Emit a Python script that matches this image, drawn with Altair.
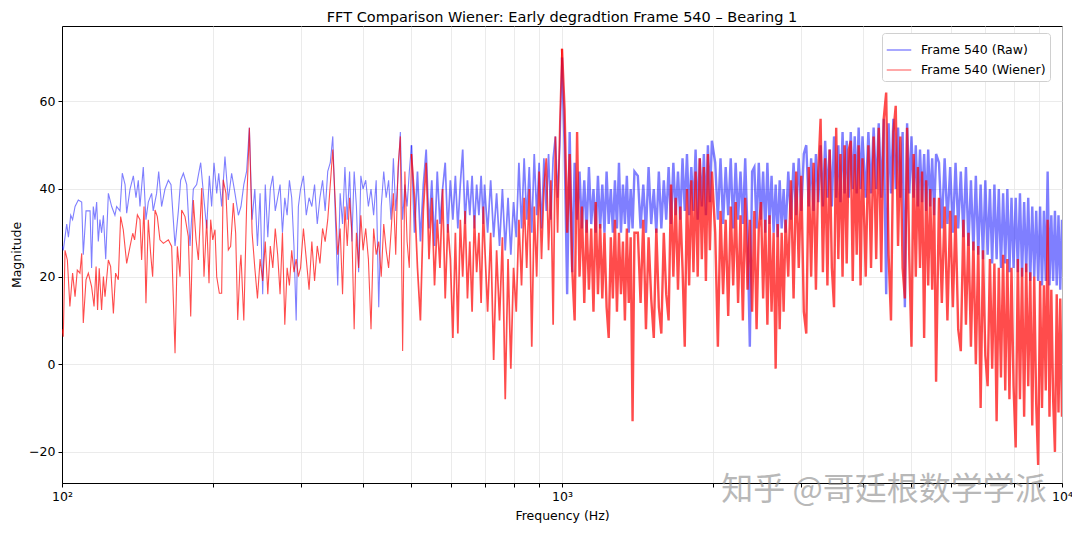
import altair as alt
import pandas as pd

TITLE = "FFT Comparison Wiener: Early degradtion Frame 540 – Bearing 1"
SERIES = ["Frame 540 (Raw)", "Frame 540 (Wiener)"]
WATERMARK = "知乎 @哥廷根数学学派"

# ---- low-frequency region (read separately for each trace) ----
raw_freq_lo = [100, 100.6, 102.2, 103.0, 104.1, 105.0, 106.2, 107.8, 109.5, 110.3, 111.7, 113.8, 114.6,
               115.5, 116.4, 117.3, 118.2, 119.1, 120.0, 121.0, 122.3, 123.8, 125.7, 127.6, 128.6, 130.6,
               132.0, 133.7, 134.7, 136.8, 138.9, 140.6, 142.1, 143.2, 145.4, 147.2, 148.8, 151.1, 152.2,
               154.6, 156.1, 158.2, 160.7, 163.2, 165.2, 168.3, 170.9, 172.7, 174.9, 177.6, 180.3, 183.1,
               185.9, 189.4, 192.3, 194.7, 197.1, 199.2, 201.4, 203.9, 205.8, 208.6, 211.8, 215.1, 218.4,
               221.8, 225.3]
raw_mag_lo = [27, 26, 32, 29, 34, 33, 36, 37.5, 37, 25, 35, 35, 22, 36, 33, 37, 28, 33, 30, 34, 24, 39, 36,
              34, 36, 35, 43.6, 41, 34.5, 40, 43, 38, 42, 36, 45, 33, 37, 39, 35, 39, 44, 36, 40, 42, 41,
              27, 35, 42, 43.6, 41, 27, 40, 41, 46, 37.5, 31, 43, 36, 46, 39, 43.6, 36, 47.4, 37.5, 43.6,
              39, 34]
wiener_freq_lo = [100, 100.6, 101.4, 102.5, 103.7, 105.0, 106.2, 107.3, 108.6, 109.5, 110.3, 111.7, 112.9,
                  114.6, 115.9, 117.0, 117.8, 118.7, 120.0, 121.0, 121.9, 123.8, 125.1, 126.7, 128.0, 129.6,
                  131.0, 132.6, 134.7, 136.8, 138.5, 139.7, 141.5, 143.2, 144.3, 145.9, 147.2, 148.8, 150.4,
                  151.8, 153.5, 155.1, 157.0, 159.5, 163.2, 165.7, 168.3, 170.1, 172.2, 173.5, 176.2, 178.9,
                  180.9, 183.1, 185.4, 187.4, 190.3, 192.3, 194.7, 196.8, 198.3, 200.2, 202.3, 203.9, 206.4,
                  208.6, 210.1, 212.8, 215.1, 217.4, 220.1, 222.5, 224.6, 227.0]
wiener_mag_lo = [8, 6.3, 26, 23.8, 13.2, 20.8, 15.4, 21.5, 20.8, 25.3, 9.4, 19.3, 20.8, 17.7, 13.2, 22.3,
                 12.4, 21.9, 12.4, 20, 15.4, 23.8, 22.3, 11.6, 20.8, 19.3, 33.7, 30.7, 23, 26.9, 29.9, 28.4,
                 34.1, 33, 23.8, 36, 13.9, 33, 25.3, 20, 35.2, 33.7, 28.4, 27.6, 28.4, 26.9, 2.5, 26.9, 20,
                 35.2, 33.7, 29.1, 10.9, 37.5, 28.4, 23.8, 40.2, 20, 33, 18.5, 33, 28.4, 30.7, 20, 16.2, 16.2,
                 42.1, 39, 26.1, 26.9, 36.8, 29.9, 10.1, 22.3]

# ---- shared frequency bins, 228 Hz .. 10 kHz ----
freq_b1 = [228, 231, 234, 237, 240, 243, 246, 249, 252, 255, 258, 261, 264, 267, 270, 273, 276, 279, 282,
           285, 288, 291, 294, 297, 300]
raw_b1 = [36, 41, 44, 54, 33, 40, 27, 39, 16, 41, 29, 40, 43, 35, 38, 41, 30, 38, 34, 42, 38, 27, 10, 36, 40]
wiener_b1 = [25, 10, 36, 54, 30, 22, 15, 24, 19, 28, 16, 27, 22, 31, 25, 16, 30, 9, 22, 18, 26, 21, 24, 20, 22]

freq_b2 = [304, 308, 312, 316, 320, 324, 328, 332, 336, 340, 344, 348, 352, 356, 360, 364, 368, 372, 376,
           380, 384, 388, 392, 396, 400]
raw_b2 = [43, 34, 38, 36, 41, 32, 38, 42, 35, 44, 46, 52, 34, 18, 39, 32, 45, 33, 44, 28, 44, 36, 21, 43, 40]
wiener_b2 = [31, 24, 17, 28, 19, 27, 23, 31, 28, 33, 41, 49, 37, 25, 31, 16, 36, 27, 38, 30, 8, 30, 22, 34, 26]

freq_b3 = [405, 410, 415, 420, 425, 430, 435, 440, 445, 450, 455, 460, 465, 470, 475, 480, 485, 490, 495, 500]
raw_b3 = [42, 36, 40, 34, 42, 13, 36, 44, 38, 42, 33, 47, 35, 43, 53, 33, 41, 36, 44, 50]
wiener_b3 = [31, 24, 8, 31, 25, 28, 20, 32, 26, 22, 30, 39, 25, 45, 52, 3, 44, 28, 22, 48]

freq_c = [507, 514, 521, 528, 535, 542, 549, 556, 563, 570, 577, 584, 591, 598, 605, 612, 619, 626, 633,
          640, 647, 654, 661, 668, 675, 682, 689, 696]
raw_c = [30, 44, 28, 41, 49, 31, 42, 27, 44, 32, 40, 46, 30, 42, 33, 43, 31, 41, 49, 32, 42, 34, 43, 31, 41,
         34, 43, 32]
wiener_c = [38, 22, 10, 35, 46, 24, 38, 18, 33, 22, 40, 15, 32, 24, 6, 30, 7, 33, 20, 35, 15, 28, 12, 34, 21,
            30, 14, 36]

freq_d = [700, 710, 720, 730, 740, 750, 760, 770, 780, 790, 800, 810, 820, 830, 840, 850, 860, 870, 880, 890,
          900, 910, 920, 930, 940, 950, 960, 970, 980, 990, 1000]
raw_d = [41, 30, 42, 29, 39, 27, 40, 26, 38, 25, 37, 29, 46, 31, 47, 33, 45, 30, 48, 34, 46, 31, 47, 35, 48,
         33, 47, 52, 38, 50, 70]
wiener_d = [28, 12, 30, 1, 26, 10, 29, -8, 24, -1, 22, 12, 33, 18, 38, 22, 40, 4, 36, 20, 44, 24, 40, 47, 26,
            42, 9, 52, 30, 55, 72]

freq_e = [1012, 1024, 1036, 1048, 1060, 1072, 1084, 1096, 1108, 1120, 1132, 1144, 1156, 1168, 1180, 1192,
          1204, 1216, 1228, 1240, 1252, 1264, 1276, 1288, 1300, 1312, 1324, 1336, 1348, 1360, 1372, 1384, 1396]
raw_e = [50, 16, 53, 21, 46, 33, 44, 31, 42, 30, 45, 32, 40, 30, 43, 31, 41, 30, 44, 32, 40, 30, 42, 31, 46,
         30, 41, 32, 43, 30, 40, 31, 44]
wiener_e = [58, 30, 48, 22, 10, 53, 20, 36, 14, 33, 17, 31, 12, 37, 16, 32, 15, 30, 13, 6, 29, 15, 33, 12,
            30, 16, 28, 10, 31, 14, 29, -13, 30]

freq_f = [1418, 1436, 1454, 1472, 1490, 1508, 1526, 1544, 1562, 1580, 1598, 1616, 1634, 1652, 1670, 1688,
          1706, 1724, 1742, 1760, 1778, 1796, 1814, 1832, 1850, 1868, 1886, 1904, 1922, 1940, 1958, 1976, 1994]
raw_f = [43, 31, 41, 30, 45, 32, 40, 30, 44, 31, 42, 33, 45, 32, 46, 34, 44, 33, 47, 35, 48, 34, 45, 35, 49,
         33, 47, 36, 48, 34, 50, 37, 51]
wiener_f = [30, 14, 33, 8, 29, 15, 6, 31, 13, 7, 30, 16, 10, 41, 20, 38, 17, 36, 22, 4, 40, 18, 42, 21, 44,
            20, 47, 24, 45, 19, 48, 26, 44]

freq_g = [2025, 2050, 2075, 2100, 2125, 2150, 2175, 2200, 2225, 2250, 2275, 2300, 2325, 2350, 2375, 2400,
          2425, 2450, 2475, 2500, 2525, 2550, 2575, 2600, 2625, 2650, 2675, 2700, 2725, 2750, 2775, 2800]
raw_g = [46, 33, 47, 32, 45, 34, 47, 31, 46, 33, 44, 32, 47, 30, 4, 44, 45, 31, 46, 33, 44, 30, 46, 32, 43,
         30, 41, 29, 42, 31, 40, 30]
wiener_g = [30, 4, 35, 16, 33, 11, 36, 18, 37, 14, 34, 10, 38, 17, 33, 12, 35, 8, 31, 37, 15, 33, 9, 34, 12,
            30, -1, 32, 8, 30, 12, 33]

freq_h = [2835, 2870, 2905, 2940, 2975, 3010, 3045, 3080, 3115, 3150, 3185, 3220, 3255, 3290, 3325, 3360,
          3395, 3430, 3465, 3500, 3535, 3570, 3605, 3640, 3675, 3710, 3745, 3780, 3815, 3850, 3885, 3920,
          3955, 3990]
raw_h = [44, 33, 46, 34, 47, 35, 48, 50, 36, 47, 35, 48, 37, 50, 36, 51, 38, 49, 36, 52, 38, 50, 37, 53, 39,
         51, 38, 53, 40, 52, 39, 54, 40, 52]
wiener_h = [20, 42, 15, 44, 22, 43, 12, 7, 45, 20, 46, 17, 44, 56, 21, 47, 18, 49, 22, 13, 54, 24, 48, 20,
            50, 23, 49, 51, 19, 48, 25, 50, 18, 47]

freq_i = [4050, 4100, 4150, 4200, 4250, 4300, 4350, 4400, 4450, 4500, 4550, 4600, 4650, 4700, 4750, 4800,
          4850, 4900, 4950, 5000, 5050, 5100, 5150, 5200, 5250, 5300, 5350, 5400, 5450, 5500, 5550, 5600]
raw_i = [38, 53, 39, 54, 40, 55, 38, 56, 16, 55, 39, 56, 40, 54, 38, 53, 13, 55, 39, 52, 38, 50, 36, 49, 37,
         48, 35, 49, 36, 47, 34, 48]
wiener_i = [20, 50, 22, 52, 24, 54, 21, 56, 62, 25, 10, 53, 59, 27, 52, 22, 15, 54, 24, 4, 48, 20, 45, 22,
            44, 6, 42, 18, 40, 17, 38, -4]

freq_j = [5675, 5750, 5825, 5900, 5975, 6050, 6125, 6200, 6275, 6350, 6425, 6500, 6575, 6650, 6725, 6800,
          6875, 6950, 7025, 7100, 7175, 7250, 7325, 7400, 7475, 7550, 7625, 7700, 7775, 7850, 7925, 8000]
raw_j = [46, 31, 47, 32, 45, 30, 46, 31, 44, 29, 45, 27, 42, 26, 43, 25, 41, 24, 42, 25, 40, 23, 41, 24, 40,
         22, 39, 23, 40, 21, 38, 22]
wiener_j = [38, 14, 36, 10, 35, 13, 34, 8, 3, 33, 9, 30, 4, 28, 0, 27, -10, 26, 2, -5, 24, -1, 23, -13, 22,
            -3, 25, -6, 24, -8, 22, -5]

freq_k = [8080, 8160, 8240, 8320, 8400, 8480, 8560, 8640, 8720, 8800, 8880, 8960, 9040, 9120, 9200, 9280,
          9360, 9440, 9520, 9600, 9680, 9760, 9840, 9920, 10000]
raw_k = [38, 21, 39, 20, 37, 21, 38, 19, 36, 20, 35, 19, 36, 18, 35, 19, 44, 18, 34, 19, 35, 18, 34, 17, 33]
wiener_k = [-19, 24, -8, 22, -12, 23, -5, 21, -14, 20, -9, -23, 19, -10, 18, -6, 33, -12, 17, -8, -20, 16,
            -11, 15, -12]

freq_hi = freq_b1 + freq_b2 + freq_b3 + freq_c + freq_d + freq_e + freq_f + freq_g + freq_h + freq_i + freq_j + freq_k
raw_hi = raw_b1 + raw_b2 + raw_b3 + raw_c + raw_d + raw_e + raw_f + raw_g + raw_h + raw_i + raw_j + raw_k
wiener_hi = (wiener_b1 + wiener_b2 + wiener_b3 + wiener_c + wiener_d + wiener_e + wiener_f + wiener_g
             + wiener_h + wiener_i + wiener_j + wiener_k)

rows = []
for f, m in zip(raw_freq_lo + freq_hi, raw_mag_lo + raw_hi):
    rows.append({"freq": f, "mag": m, "series": SERIES[0]})
for f, m in zip(wiener_freq_lo + freq_hi, wiener_mag_lo + wiener_hi):
    rows.append({"freq": f, "mag": m, "series": SERIES[1]})
df = pd.DataFrame(rows)

FONT = "DejaVu Sans"
FS = 12.5
x_ticks = [100, 200, 300, 400, 500, 600, 700, 800, 900, 1000, 2000, 3000, 4000, 5000, 6000, 7000, 8000,
           9000, 10000]
y_ticks = [-20, 0, 20, 40, 60]

x_enc = alt.X(
    "freq:Q",
    title="Frequency (Hz)",
    scale=alt.Scale(type="log", domain=[100, 10000], nice=False),
    axis=alt.Axis(
        values=x_ticks,
        labelExpr="datum.value == 100 ? '10²' : datum.value == 1000 ? '10³' : datum.value == 10000 ? '10⁴' : ''",
        labelFlush=False,
        labelOverlap=False,
        tickSize=4,
        labelPadding=3,
        titlePadding=7,
    ),
)
y_enc = alt.Y(
    "mag:Q",
    title="Magnitude",
    scale=alt.Scale(domain=[-27.1, 77.2], nice=False, zero=False),
    axis=alt.Axis(values=y_ticks, tickSize=4, labelPadding=3, titlePadding=5),
)
color_enc = alt.Color(
    "series:N",
    scale=alt.Scale(domain=SERIES, range=["#0000ff", "#ff0000"]),
    legend=alt.Legend(
        title=None,
        orient="none",
        legendX=820,
        legendY=7,
        padding=4,
        fillColor="white",
        strokeColor="#d0d0d0",
        cornerRadius=3,
        symbolType="stroke",
        symbolSize=600,
        symbolStrokeWidth=1.5,
        symbolOpacity=0.45,
        labelFontSize=FS,
        labelFont=FONT,
        labelColor="black",
        labelOffset=9,
        rowPadding=0,
        labelLimit=300,
    ),
)

base = alt.Chart(df)


def band(series, lo, hi, width, opacity):
    return base.transform_filter(
        (alt.datum.series == series) & (alt.datum.freq >= lo) & (alt.datum.freq <= hi)
    ).mark_line(strokeWidth=width, opacity=opacity, clip=True).encode(x=x_enc, y=y_enc, color=color_enc)


layers = []
for s, op in [(SERIES[0], 0.5), (SERIES[1], 0.7)]:
    layers.append(band(s, 100, 500, 1.1, op))
    layers.append(band(s, 500, 1000, 1.7, op))
    layers.append(band(s, 1000, 10000, 2.4, op))

wm = alt.Chart(pd.DataFrame({"t": [WATERMARK]})).mark_text(
    font="Noto Sans CJK SC", fontSize=32, color="#8a8a8a", opacity=0.6, align="center", baseline="middle"
).encode(text="t:N", x=alt.value(822), y=alt.value(464))

chart = (
    alt.layer(*layers, wm)
    .properties(
        width=1000,
        height=457,
        title=alt.TitleParams(TITLE, fontSize=14.5, font=FONT, fontWeight="normal", color="black",
                              anchor="middle", offset=1),
        autosize=alt.AutoSizeParams(type="none"),
        padding={"left": 54, "top": 18, "right": 10, "bottom": 44},
        background="white",
    )
    .configure_view(stroke="black", strokeWidth=1)
    .configure_axis(
        labelFont=FONT,
        titleFont=FONT,
        labelFontSize=FS,
        titleFontSize=FS,
        titleFontWeight="normal",
        labelColor="black",
        titleColor="black",
        domainColor="black",
        tickColor="black",
        gridColor="#e6e6e6",
        gridWidth=0.8,
    )
)

chart.save("out.html", embed_options={"renderer": "svg", "actions": False})
